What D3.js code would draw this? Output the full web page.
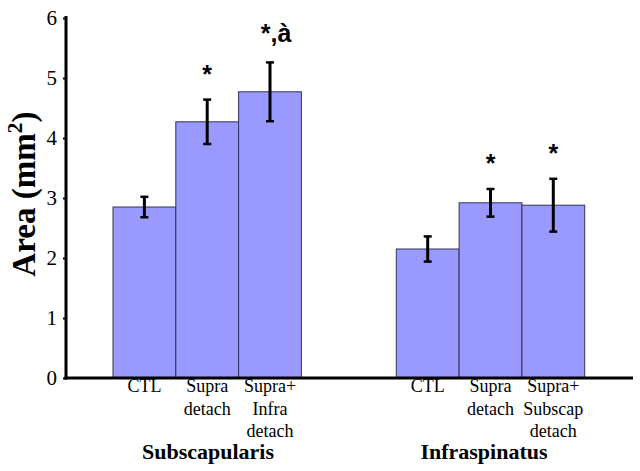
<!DOCTYPE html>
<html><head><meta charset="utf-8">
<script src="https://cdn.jsdelivr.net/npm/d3@7"></script>
<style>body{margin:0;background:#fff}svg{display:block}</style>
</head><body>
<svg id="c" width="640" height="471"></svg>
<script>
const groups = ["Subscapularis", "Infraspinatus"];
const subscapCategories = [["CTL"], ["Supra", "detach"], ["Supra+", "Infra", "detach"]];
const infraCategories = [["CTL"], ["Supra", "detach"], ["Supra+", "Subscap", "detach"]];
const subscapValues = [2.85, 4.27, 4.77];
const subscapErrors = [0.17, 0.37, 0.49];
const infraValues = [2.15, 2.92, 2.88];
const infraErrors = [0.21, 0.23, 0.44];
const subscapMarks = ["", "*", "*,à"];
const infraMarks = ["", "*", "*"];
const yTicks = [0, 1, 2, 3, 4, 5, 6];

const SERIF = "'Liberation Serif', 'Times New Roman', Times, 'DejaVu Serif', serif";
const SANS = "'Liberation Sans', Arial, Helvetica, sans-serif";

const svg = d3.select("#c").attr("font-family", SERIF);
const y = d3.scaleLinear().domain([0, 6]).range([378, 18]);
const bw = 62.8;
const xs = [113, 396.3];

const data = [];
[[subscapCategories, subscapValues, subscapErrors, subscapMarks], [infraCategories, infraValues, infraErrors, infraMarks]].forEach((g, gi) => {
  g[1].forEach((v, i) => data.push({g: gi, i, cat: g[0][i], v, e: g[2][i], m: g[3][i], x0: xs[gi] + i * bw}));
});

svg.selectAll("rect.bar").data(data).enter().append("rect")
  .attr("x", d => d.x0).attr("width", bw)
  .attr("y", d => y(d.v)).attr("height", d => y(0) - y(d.v))
  .attr("fill", "#9999ff").attr("stroke", "#333355").attr("stroke-width", 1);

// error bars
const eg = svg.selectAll("g.err").data(data).enter().append("g").attr("stroke", "#000");
eg.append("line").attr("x1", d => d.x0 + bw / 2).attr("x2", d => d.x0 + bw / 2)
  .attr("y1", d => y(d.v + d.e)).attr("y2", d => y(d.v - d.e)).attr("stroke-width", 3);
eg.append("line").attr("x1", d => d.x0 + bw / 2 - 4).attr("x2", d => d.x0 + bw / 2 + 4)
  .attr("y1", d => y(d.v + d.e)).attr("y2", d => y(d.v + d.e)).attr("stroke-width", 2.5);
eg.append("line").attr("x1", d => d.x0 + bw / 2 - 4).attr("x2", d => d.x0 + bw / 2 + 4)
  .attr("y1", d => y(d.v - d.e)).attr("y2", d => y(d.v - d.e)).attr("stroke-width", 2.5);

// significance marks
svg.selectAll("text.mark").data(data.filter(d => d.m)).enter().append("text")
  .attr("x", d => d.x0 + bw / 2 + (d.m.length > 1 ? 6 : 0))
  .attr("y", d => y(d.v + d.e) - (d.m.length > 1 ? 20 : 17))
  .attr("text-anchor", "middle")
  .attr("font-family", SANS).attr("font-weight", "bold").attr("font-size", 25)
  .text(d => d.m);

// axes
const yAxis = d3.axisLeft(y).tickValues(yTicks).tickFormat(d3.format("d")).tickSize(3).tickPadding(6);
const ya = svg.append("g").attr("transform", "translate(66,0)").call(yAxis)
  .attr("font-family", SERIF).attr("font-size", 21);
ya.select(".domain").attr("stroke-width", 3).attr("d", "M0,16V379.5");
ya.selectAll(".tick line").attr("stroke-width", 2);
ya.selectAll(".tick text").attr("fill", "#000");

svg.append("line").attr("x1", 64.5).attr("x2", 633).attr("y1", y(0)).attr("y2", y(0)).attr("stroke", "#000").attr("stroke-width", 3);

// category labels
const lab = svg.selectAll("text.cat").data(data).enter().append("text")
  .attr("text-anchor", "middle").attr("font-size", 18);
lab.each(function(d) {
  const t = d3.select(this);
  d.cat.forEach((s, k) => t.append("tspan").attr("x", d.x0 + bw / 2).attr("y", 392 + k * 22.5).text(s));
});

// group labels
svg.selectAll("text.grp").data(groups).enter().append("text")
  .attr("x", (d, i) => [208, 484][i]).attr("y", 459)
  .attr("text-anchor", "middle").attr("font-weight", "bold").attr("font-size", 22)
  .text(d => d);

// y label
const yl = svg.append("text").attr("transform", "translate(35,194) rotate(-90)")
  .attr("text-anchor", "middle").attr("font-weight", "bold").attr("font-size", 33);
yl.append("tspan").text("Area (mm");
yl.append("tspan").attr("dy", -13).attr("font-size", 22).text("2");
yl.append("tspan").attr("dy", 13).text(")");
</script>
</body></html>
